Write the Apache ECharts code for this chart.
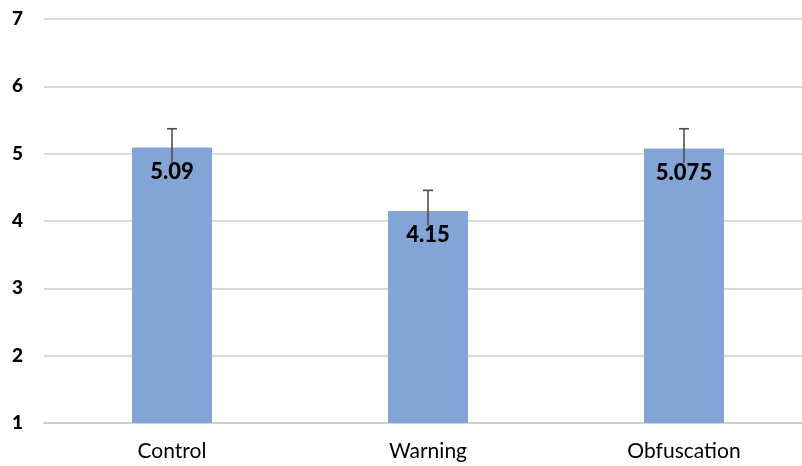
<!DOCTYPE html>
<html>
<head>
<meta charset="utf-8">
<script src="https://cdn.jsdelivr.net/npm/echarts@6/dist/echarts.min.js"></script>
<style>
  html, body { margin: 0; padding: 0; background: #ffffff; overflow: hidden; }
  /* canvas is a bit wider than the window so the plot runs past the right edge */
  #chart { width: 812px; height: 466px; }
</style>
</head>
<body>
<div id="chart"></div>
<script>
// Mean scores per condition with error bar extents
const categories = ['Control', 'Warning', 'Obfuscation'];
const means = [5.09, 4.15, 5.075];
const errHigh = [5.37, 4.455, 5.37];
const errLow = [4.86, 3.93, 4.86];
const yTicks = [1, 2, 3, 4, 5, 6, 7];

const fontFamily = 'Lato, "Open Sans", sans-serif';

const chart = echarts.init(document.getElementById('chart'), null, { renderer: 'canvas' });

chart.setOption({
  animation: false,
  backgroundColor: '#ffffff',
  grid: { left: 44, right: 0, top: 19, bottom: 43, containLabel: false },
  xAxis: {
    type: 'category',
    data: categories,
    axisLine: { show: true, lineStyle: { color: '#d0d0d0', width: 2 } },
    axisTick: { show: false },
    axisLabel: { color: '#000000', fontFamily: fontFamily, fontSize: 21, margin: 18 }
  },
  yAxis: {
    type: 'value',
    min: yTicks[0],
    max: yTicks[yTicks.length - 1],
    interval: 1,
    axisLine: { show: false },
    axisTick: { show: false },
    splitLine: { show: true, lineStyle: { color: '#d9d9d9', width: 2 } },
    axisLabel: { color: '#000000', fontFamily: fontFamily, fontSize: 19, fontWeight: 900, margin: 21 }
  },
  series: [
    {
      type: 'bar',
      data: means,
      barWidth: 80,
      itemStyle: { color: '#84a4d6' },
      z: 2,
      label: {
        show: true,
        position: 'insideTop',
        distance: 13,
        color: '#000000',
        fontFamily: fontFamily,
        fontWeight: 900,
        fontSize: 22,
        lineHeight: 22,
        formatter: function (p) { return String(p.value); }
      }
    },
    {
      type: 'custom',
      z: 3,
      data: categories.map(function (c, i) { return [i, errHigh[i], errLow[i]]; }),
      renderItem: function (params, api) {
        const top = api.coord([api.value(0), api.value(1)]);
        const bottom = api.coord([api.value(0), api.value(2)]);
        const cap = 5;
        const style = { stroke: '#4d4d4d', lineWidth: 1.6 };
        return {
          type: 'group',
          children: [
            { type: 'line', shape: { x1: top[0], y1: top[1], x2: bottom[0], y2: bottom[1] }, style: style },
            { type: 'line', shape: { x1: top[0] - cap, y1: top[1], x2: top[0] + cap, y2: top[1] }, style: style }
          ]
        };
      }
    }
  ]
});
</script>
</body>
</html>
